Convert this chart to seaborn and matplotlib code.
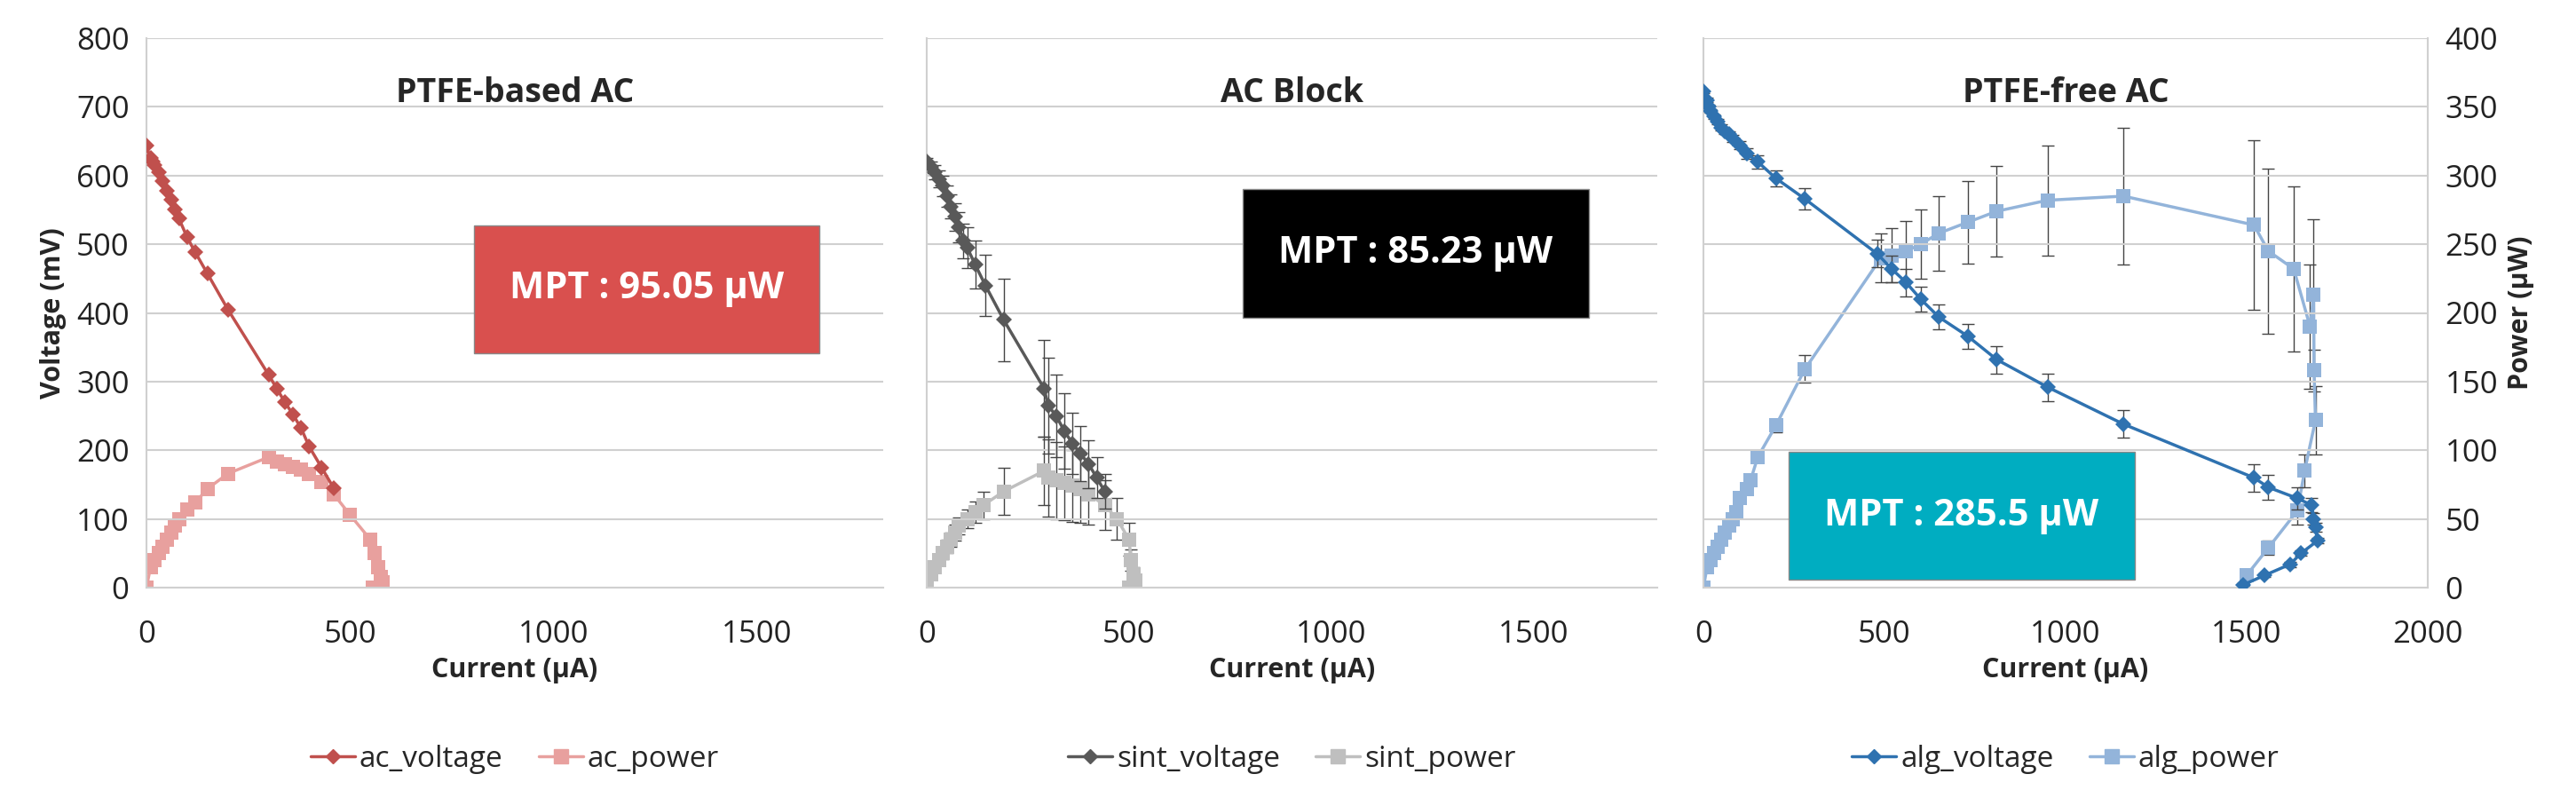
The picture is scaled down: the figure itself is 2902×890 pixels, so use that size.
import matplotlib
matplotlib.use("Agg")
import matplotlib.pyplot as plt
import seaborn as sns
import numpy as np
from matplotlib.patches import Rectangle
from matplotlib.lines import Line2D

sns.set_theme(style="white")
plt.rcParams['font.family'] = ['Open Sans', 'DejaVu Sans']

# Panel 1: PTFE-based AC
ac_i_v = [0, 10, 15, 20, 30, 40, 50, 60, 70, 80, 100, 120, 150, 200, 300, 320, 340, 360, 380, 400, 430, 460]
ac_v = [643, 625, 620, 615, 605, 592, 578, 565, 550, 537, 510, 488, 457, 405, 310, 290, 270, 252, 232, 205, 175, 145]
ac_i_p = [0, 10, 20, 30, 40, 50, 60, 70, 80, 100, 120, 150, 200, 300, 320, 340, 360, 380, 400, 430, 460, 500, 550, 560, 570, 575, 580, 555]
ac_p = [0, 15, 20, 25, 30, 35, 40, 45, 50, 57, 62, 72, 83, 95, 92, 90, 88, 86, 83, 77, 68, 53, 35, 25, 15, 8, 4, 0]

# Panel 2: AC Block
sint_i_v = [0, 10, 20, 30, 40, 50, 60, 70, 80, 90, 100, 120, 145, 190, 290, 300, 320, 340, 360, 380, 400, 420, 440]
sint_v = [620, 612, 605, 595, 585, 570, 555, 540, 525, 505, 495, 470, 440, 390, 290, 265, 250, 228, 210, 195, 180, 160, 140]
sint_v_err = [5, 8, 10, 12, 15, 15, 18, 20, 22, 25, 30, 35, 45, 60, 70, 70, 60, 55, 45, 40, 35, 30, 25]
sint_i_p = [0, 10, 20, 30, 40, 50, 60, 70, 80, 100, 120, 140, 190, 290, 300, 320, 340, 360, 380, 400, 440, 470, 500, 505, 510, 515, 500]
sint_p = [0, 10, 15, 20, 25, 30, 35, 40, 45, 50, 55, 60, 70, 85, 80, 78, 76, 74, 72, 68, 60, 50, 35, 20, 10, 5, 0]
sint_p_err = [0, 2, 3, 3, 4, 5, 5, 6, 6, 7, 8, 10, 17, 25, 28, 28, 27, 26, 25, 22, 18, 15, 12, 8, 5, 3, 0]

# Panel 3: PTFE-free AC (voltage in mV)
alg_i_v = [0, 10, 15, 20, 30, 40, 50, 60, 70, 80, 100, 120, 150, 200, 280, 480, 520, 560, 600, 650, 730, 810, 950, 1160, 1520, 1560, 1640, 1680, 1685, 1690, 1695, 1650, 1620, 1550, 1490]
alg_v = [722, 710, 700, 694, 686, 678, 670, 664, 660, 654, 644, 632, 620, 596, 566, 486, 464, 444, 420, 394, 366, 332, 292, 238, 160, 146, 130, 120, 100, 88, 68, 50, 34, 18, 4]
alg_v_err = [2, 3, 3, 3, 3, 4, 4, 4, 4, 5, 6, 8, 10, 12, 16, 20, 20, 20, 18, 18, 18, 20, 20, 20, 20, 18, 16, 10, 8, 6, 4, 4, 4, 3, 2]
alg_i_p = [0, 10, 20, 30, 40, 50, 60, 70, 80, 90, 100, 120, 130, 150, 200, 280, 490, 520, 560, 600, 650, 730, 810, 950, 1160, 1520, 1560, 1630, 1675, 1685, 1686, 1690, 1660, 1640, 1560, 1500]
alg_p = [0, 15, 20, 25, 30, 35, 40, 45, 50, 55, 65, 72, 78, 95, 118, 159, 240, 242, 245, 250, 258, 266, 274, 282, 285, 264, 245, 232, 190, 213, 158, 122, 85, 56, 29, 9]
alg_p_err = [0, 1, 1, 1, 1, 1, 2, 2, 2, 2, 3, 3, 3, 4, 5, 10, 18, 20, 22, 25, 27, 30, 33, 40, 50, 62, 60, 60, 45, 55, 15, 25, 12, 10, 5, 2]

panels = [
    dict(title="PTFE-based AC", iv=ac_i_v, v=ac_v, ve=None, ip=ac_i_p, p=ac_p, pe=None,
         cv="#c0504d", cp="#e8a09e", lv="ac_voltage", lp="ac_power", xmax=1810,
         box="#d9504e", mpt="MPT : 95.05 µW", boxpx=(534, 254, 923, 398)),
    dict(title="AC Block", iv=sint_i_v, v=sint_v, ve=sint_v_err, ip=sint_i_p, p=sint_p, pe=sint_p_err,
         cv="#595959", cp="#bfbfbf", lv="sint_voltage", lp="sint_power", xmax=1805,
         box="#000000", mpt="MPT : 85.23 µW", boxpx=(1400, 213, 1790, 358)),
    dict(title="PTFE-free AC", iv=alg_i_v, v=alg_v, ve=alg_v_err, ip=alg_i_p, p=alg_p, pe=alg_p_err,
         cv="#2f72b0", cp="#93b4da", lv="alg_voltage", lp="alg_power", xmax=2000,
         box="#00adc1", mpt="MPT : 285.5 µW", boxpx=(2015, 509, 2405, 653)),
]
lefts = [(165, 995), (1044, 1867), (1919, 2735)]

W, H = 2902, 890
fig = plt.figure(figsize=(W / 100, H / 100), dpi=100)
top, bot = 43, 662
grid_c = "#d0d0d0"
for k, (pn, (x0, x1)) in enumerate(zip(panels, lefts)):
    ax = fig.add_axes([x0 / W, 1 - bot / H, (x1 - x0) / W, (bot - top) / H])
    ax2 = ax.twinx()
    ax.set_xlim(0, pn["xmax"]); ax.set_ylim(0, 800); ax2.set_ylim(0, 400)
    ax.set_yticks(range(0, 801, 100)); ax2.set_yticks(range(0, 401, 50))
    ax.set_xticks([0, 500, 1000, 1500] if k < 2 else [0, 500, 1000, 1500, 2000])
    ax.yaxis.grid(True, color=grid_c, lw=1.5)
    for s in ["top", "right"]:
        ax.spines[s].set_visible(False)
    for s in ["top", "right", "left", "bottom"]:
        ax2.spines[s].set_visible(False)
    ax.spines["left"].set_color(grid_c); ax.spines["bottom"].set_color(grid_c)
    ax.spines["left"].set_linewidth(1.5); ax.spines["bottom"].set_linewidth(1.5)
    ax.tick_params(axis="x", length=8, color=grid_c, width=1.5, labelsize=25, pad=18, labelcolor="#222222")
    ax.tick_params(axis="y", length=0, labelsize=25, pad=14, labelcolor="#222222", labelleft=(k == 0))
    ax2.tick_params(axis="y", length=0, labelsize=25, pad=14, labelcolor="#222222", labelright=(k == 2))
    if k == 2:
        ax2.spines["right"].set_visible(True); ax2.spines["right"].set_color(grid_c)
        ax2.spines["right"].set_linewidth(1.5)
        ax2.set_ylabel("Power (µW)", fontsize=22, fontweight="bold", labelpad=8)
    if k == 0:
        ax.set_ylabel("Voltage (mV)", fontsize=22, fontweight="bold", labelpad=8)
    ax.set_xlabel("Current (µA)", fontsize=22, fontweight="bold", labelpad=6)
    ax.set_title(pn["title"], fontsize=27, fontweight="bold", y=0.87)

    if pn["ve"] is not None:
        ax.errorbar(pn["iv"], pn["v"], yerr=pn["ve"], fmt="none", ecolor="#444444", elinewidth=1, capsize=5, zorder=2)
    if pn["pe"] is not None:
        ax2.errorbar(pn["ip"], pn["p"], yerr=pn["pe"], fmt="none", ecolor="#444444", elinewidth=1, capsize=5, zorder=2)
    sns.lineplot(x=pn["ip"], y=pn["p"], ax=ax2, sort=False, estimator=None, color=pn["cp"], marker="s",
                 markersize=12, markeredgewidth=0, lw=2.5, zorder=3)
    sns.lineplot(x=pn["iv"], y=pn["v"], ax=ax, sort=False, estimator=None, color=pn["cv"], marker="D",
                 markersize=9, markeredgewidth=0, lw=2.5, zorder=4)
    ax.set_zorder(ax2.get_zorder() + 1); ax.patch.set_visible(False)

    h = [Line2D([], [], color=pn["cv"], marker="D", markersize=8, lw=2.5),
         Line2D([], [], color=pn["cp"], marker="s", markersize=11, lw=2.5)]
    fig.legend(h, [pn["lv"], pn["lp"]], loc="center", bbox_to_anchor=(((x0 + x1) / 2) / W, 1 - 855 / H),
               ncol=2, frameon=False, fontsize=24, handlelength=1.5, columnspacing=1.2, handletextpad=0.15)

    bx0, by0, bx1, by1 = pn["boxpx"]
    fig.patches.append(Rectangle((bx0 / W, 1 - by1 / H), (bx1 - bx0) / W, (by1 - by0) / H,
                                 transform=fig.transFigure, facecolor=pn["box"], edgecolor="#888888", lw=1, zorder=10))
    fig.text(((bx0 + bx1) / 2) / W, 1 - ((by0 + by1) / 2) / H, pn["mpt"], ha="center", va="center",
             color="white", fontsize=30, fontweight="bold", zorder=11)

fig.savefig("out.png", dpi=100)
